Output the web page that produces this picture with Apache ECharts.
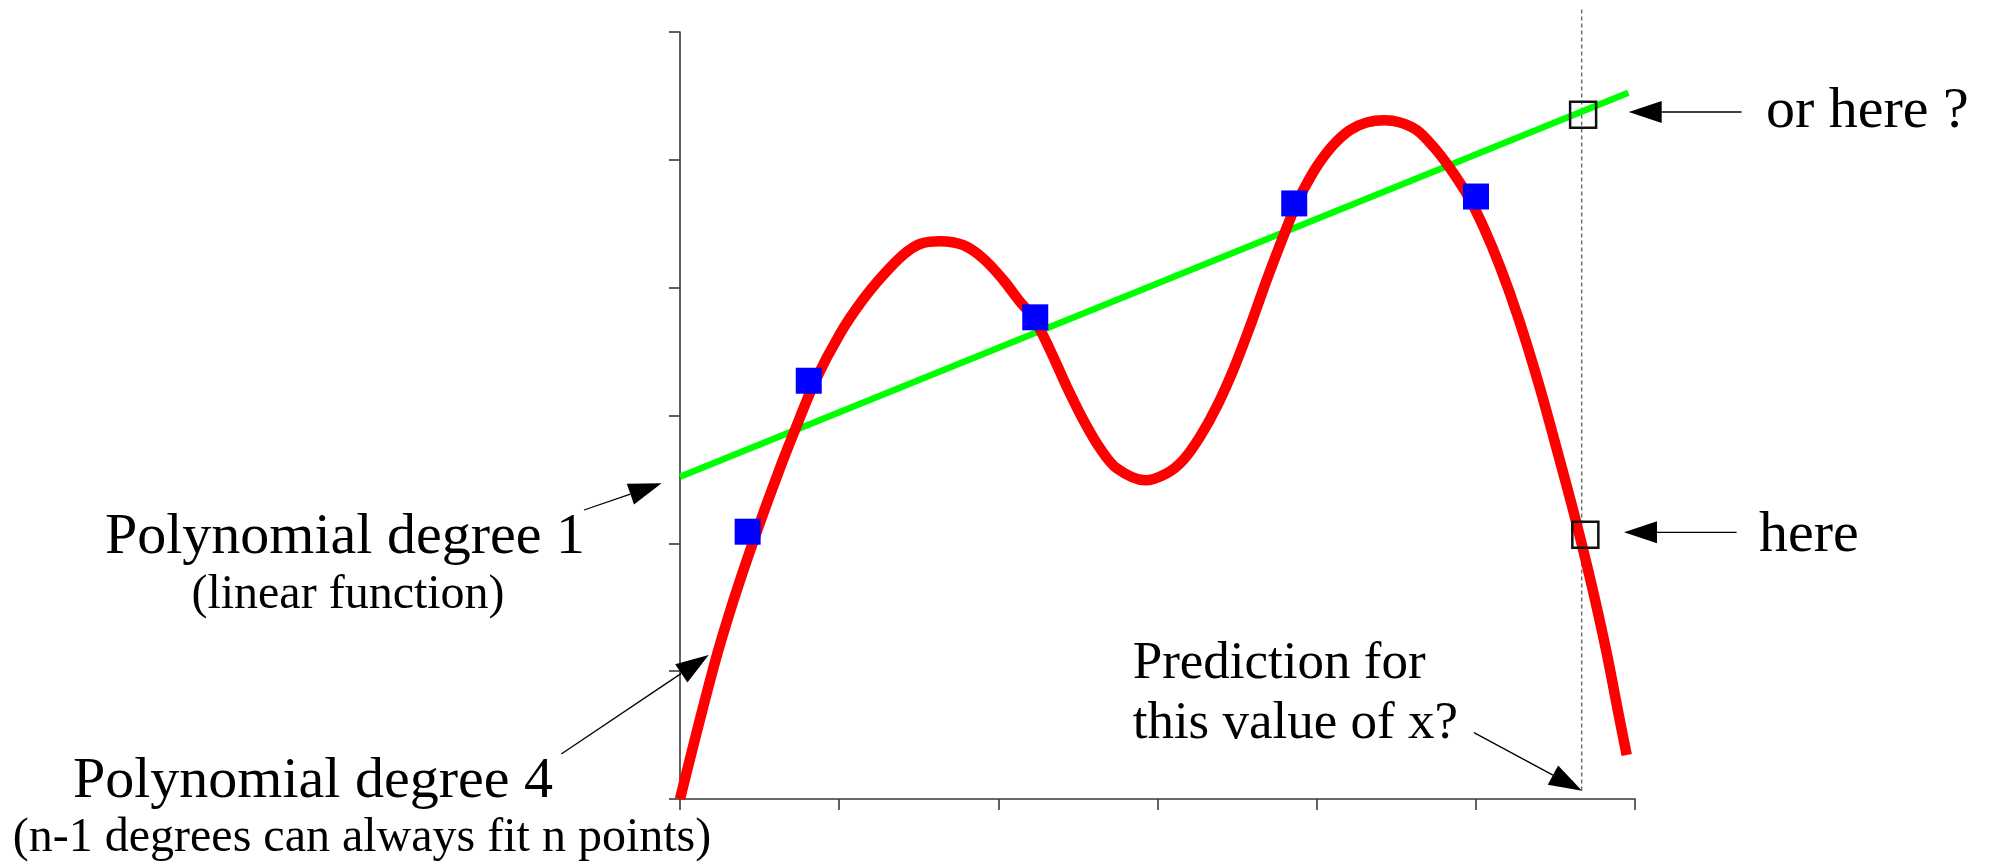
<!DOCTYPE html>
<html>
<head>
<meta charset="utf-8">
<script src="https://cdn.jsdelivr.net/npm/echarts@6/dist/echarts.min.js"></script>
<style>
html,body{margin:0;padding:0;background:#ffffff;}
#chart{width:1995px;height:866px;}
</style>
</head>
<body>
<div id="chart"></div>
<script>
// ---------------- data (axis units) ----------------
const xTicks = [0, 1, 2, 3, 4, 5, 6];
const yTicks = [0, 1, 2, 3, 4, 5, 6];

// observed points (blue squares)
const observedX = [0.425, 0.809, 2.232, 3.859, 5.001];
const observedY = [2.091, 3.272, 3.768, 4.659, 4.713];

// polynomial degree 1 (green straight line), read at its two ends
const linearX = [0, 5.958];
const linearY = [2.521, 5.525];

// polynomial degree 4 (red curve)
const poly4X = [0, 0.212, 0.337, 0.482, 0.624, 0.714, 0.850, 1.007, 1.148, 1.277,
  1.403, 1.508, 1.634, 1.780, 1.906, 2.031, 2.136, 2.221, 2.325, 2.430,
  2.534, 2.639, 2.744, 2.921, 3.058, 3.162, 3.267, 3.372, 3.476, 3.581,
  3.686, 3.790, 3.874, 3.916, 4.000, 4.104, 4.209, 4.314, 4.425, 4.524,
  4.628, 4.733, 4.838, 4.953, 5.047, 5.152, 5.270, 5.394, 5.510, 5.622,
  5.725, 5.818, 5.900, 5.948];
const poly4Y = [0, 1.035, 1.557, 2.091, 2.575, 2.861, 3.272, 3.643, 3.904, 4.099,
  4.258, 4.342, 4.363, 4.332, 4.227, 4.060, 3.890, 3.765, 3.513, 3.225,
  2.965, 2.743, 2.587, 2.493, 2.548, 2.652, 2.834, 3.069, 3.356, 3.695,
  4.060, 4.399, 4.660, 4.764, 4.946, 5.116, 5.233, 5.292, 5.309, 5.292,
  5.233, 5.103, 4.934, 4.712, 4.477, 4.164, 3.752, 3.252, 2.730, 2.208,
  1.687, 1.166, 0.644, 0.344];

// the x value to predict and the two candidate predictions (hollow squares)
const predictionX = 5.665;
const candidateX = [5.674, 5.688];
const candidateY = [5.352, 2.067];
const guideY = [0.066, 6.18];

// ---------------- chart ----------------
const pairs = (xs, ys) => xs.map((x, i) => [x, ys[i]]);
const AXIS = '#3a3a3a';
const SERIF = '"Liberation Serif", "Times New Roman", serif';

const axisBase = {
  type: 'value',
  min: xTicks[0],
  max: xTicks[xTicks.length - 1],
  interval: 1,
  axisLine: { show: true, onZero: false, lineStyle: { color: AXIS, width: 1.6 } },
  axisTick: { show: true, length: 11, lineStyle: { color: AXIS, width: 1.6 } },
  axisLabel: { show: false },
  splitLine: { show: false }
};

const chart = echarts.init(document.getElementById('chart'), null, { renderer: 'canvas' });

chart.setOption({
  animation: false,
  backgroundColor: '#ffffff',
  grid: { left: 680, right: 360, top: 32, bottom: 67, containLabel: false, outerBoundsMode: 'none' },
  xAxis: Object.assign({}, axisBase),
  yAxis: Object.assign({}, axisBase, { min: yTicks[0], max: yTicks[yTicks.length - 1] }),
  series: [
    {
      name: 'guide',
      type: 'line',
      data: [[predictionX, guideY[0]], [predictionX, guideY[1]]],
      symbol: 'none',
      clip: false,
      silent: true,
      z: 1,
      lineStyle: { color: '#6a6a6a', width: 1.4, type: [4, 3] }
    },
    {
      name: 'Polynomial degree 1',
      type: 'line',
      data: pairs(linearX, linearY),
      symbol: 'none',
      silent: true,
      z: 2,
      lineStyle: { color: '#00ff00', width: 6.5, cap: 'butt' }
    },
    {
      name: 'Polynomial degree 4',
      type: 'line',
      data: pairs(poly4X, poly4Y),
      symbol: 'none',
      smooth: 0.33,
      silent: true,
      z: 3,
      lineStyle: { color: '#ff0000', width: 10.5, cap: 'butt', join: 'round' }
    },
    {
      name: 'observed',
      type: 'scatter',
      data: pairs(observedX, observedY),
      symbol: 'rect',
      symbolSize: 26,
      silent: true,
      z: 5,
      itemStyle: { color: '#0000ff', opacity: 1 }
    },
    {
      name: 'candidates',
      type: 'scatter',
      data: pairs(candidateX, candidateY),
      symbol: 'rect',
      symbolSize: 26,
      silent: true,
      z: 6,
      itemStyle: { color: 'rgba(255,255,255,0)', borderColor: '#111111', borderWidth: 2.5, opacity: 1 }
    }
  ]
});

// ---------------- annotations (placed in axis units, converted by the chart) ----------------
const annotationTexts = [
  { text: 'Polynomial degree 1', at: [-2.1047, 1.9143], size: 58, align: 'center' },
  { text: '(linear function)', at: [-2.0859, 1.4863], size: 48, align: 'center' },
  { text: 'Polynomial degree 4', at: [-2.3058, 0.0055], size: 58, align: 'center' },
  { text: '(n-1 degrees can always fit n points)', at: [-1.9979, -0.4146], size: 48, align: 'center' },
  { text: 'or here ?', at: [6.823, 5.2467], size: 58, align: 'left' },
  { text: 'here', at: [6.779, 1.9267], size: 58, align: 'left' },
  { text: 'Prediction for', at: [2.844, 0.9387], size: 53, align: 'left' },
  { text: 'this value of x?', at: [2.844, 0.4670], size: 53, align: 'left' }
];
const annotationArrows = [
  { from: [-0.6031, 2.2608], to: [-0.1156, 2.4697] },
  { from: [-0.7458, 0.3520], to: [0.1803, 1.1265] },
  { from: [6.6697, 5.3742], to: [5.9604, 5.3742] },
  { from: [6.6383, 2.0863], to: [5.9309, 2.0863] },
  { from: [4.9885, 0.5187], to: [5.6670, 0.0641] }
];

function drawAnnotations() {
  const toPx = (p) => chart.convertToPixel({ gridIndex: 0 }, p);
  const elements = [];
  const BASE = 0.29; // middle-of-text offset above the alphabetic baseline (em)
  annotationTexts.forEach((t) => {
    const p = toPx(t.at);
    elements.push({
      type: 'text',
      silent: true,
      z: 10,
      style: {
        text: t.text,
        x: p[0],
        y: p[1] - BASE * t.size,
        fill: '#000000',
        font: t.size + 'px ' + SERIF,
        align: t.align,
        textAlign: t.align,
        verticalAlign: 'middle',
        textVerticalAlign: 'middle'
      }
    });
  });
  const HEAD_LEN = 33, HEAD_HALF = 11;
  annotationArrows.forEach((a) => {
    const s = toPx(a.from), e = toPx(a.to);
    const dx = e[0] - s[0], dy = e[1] - s[1];
    const len = Math.sqrt(dx * dx + dy * dy);
    const ux = dx / len, uy = dy / len;
    const bx = e[0] - ux * HEAD_LEN, by = e[1] - uy * HEAD_LEN;
    const nx = -uy, ny = ux;
    elements.push({
      type: 'line', silent: true, z: 10,
      shape: { x1: s[0], y1: s[1], x2: bx, y2: by },
      style: { stroke: '#000000', lineWidth: 1.3 }
    });
    elements.push({
      type: 'polygon', silent: true, z: 10,
      shape: { points: [[e[0], e[1]], [bx + nx * HEAD_HALF, by + ny * HEAD_HALF], [bx - nx * HEAD_HALF, by - ny * HEAD_HALF]] },
      style: { fill: '#000000', stroke: null }
    });
  });
  chart.setOption({ graphic: { elements: elements } });
}
drawAnnotations();
</script>
</body>
</html>
